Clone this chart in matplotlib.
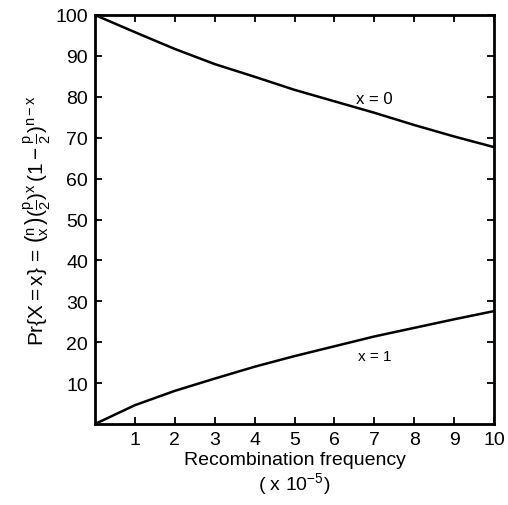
import numpy as np
import matplotlib.pyplot as plt
import matplotlib

matplotlib.rcParams['font.family'] = ['Liberation Sans', 'DejaVu Sans']
matplotlib.rcParams['mathtext.fontset'] = 'custom'
matplotlib.rcParams['mathtext.rm'] = 'Liberation Sans'
matplotlib.rcParams['mathtext.it'] = 'Liberation Sans'

# recombination frequency (x 10^-5)
freq = [0, 1, 2, 3, 4, 5, 6, 7, 8, 9, 10]
# probability (%)
prob_x0 = [100, 95.8, 91.7, 88.0, 84.9, 81.7, 78.9, 76.1, 73.1, 70.3, 67.7]
prob_x1 = [0, 4.6, 8.1, 11.1, 14.0, 16.6, 19.0, 21.4, 23.5, 25.6, 27.6]

x_ticks = [1, 2, 3, 4, 5, 6, 7, 8, 9, 10]
y_ticks = [10, 20, 30, 40, 50, 60, 70, 80, 90, 100]

fig = plt.figure(figsize=(5.08, 5.06), dpi=100)
ax = fig.add_axes([95/508, 1 - 425/506, 399/508, 409/506])

ax.plot(freq, prob_x0, color='k', lw=1.8)
ax.plot(freq, prob_x1, color='k', lw=1.8)

ax.text(7.0, 79.5, 'x = 0', fontsize=12, ha='center', va='center')
ax.text(7.0, 16.6, 'x = 1', fontsize=11, ha='center', va='center')

ax.set_xlim(0, 10)
ax.set_ylim(0, 100)
ax.set_xticks(x_ticks)
ax.set_yticks(y_ticks)
ax.tick_params(direction='in', top=True, right=True, length=5, width=1.3, labelsize=14, pad=5)
for s in ax.spines.values():
    s.set_linewidth(2)

ax.set_xlabel('Recombination frequency\n( x 10$^{-5}$)', fontsize=14, linespacing=1.15, labelpad=2)
ax.set_ylabel(r'$\mathrm{Pr}\{X=x\}\,=\,\binom{n}{x}(\frac{p}{2})^{x}\,(1-\frac{p}{2})^{n-x}$', fontsize=15, labelpad=2)

fig.savefig('out.png', dpi=100)
